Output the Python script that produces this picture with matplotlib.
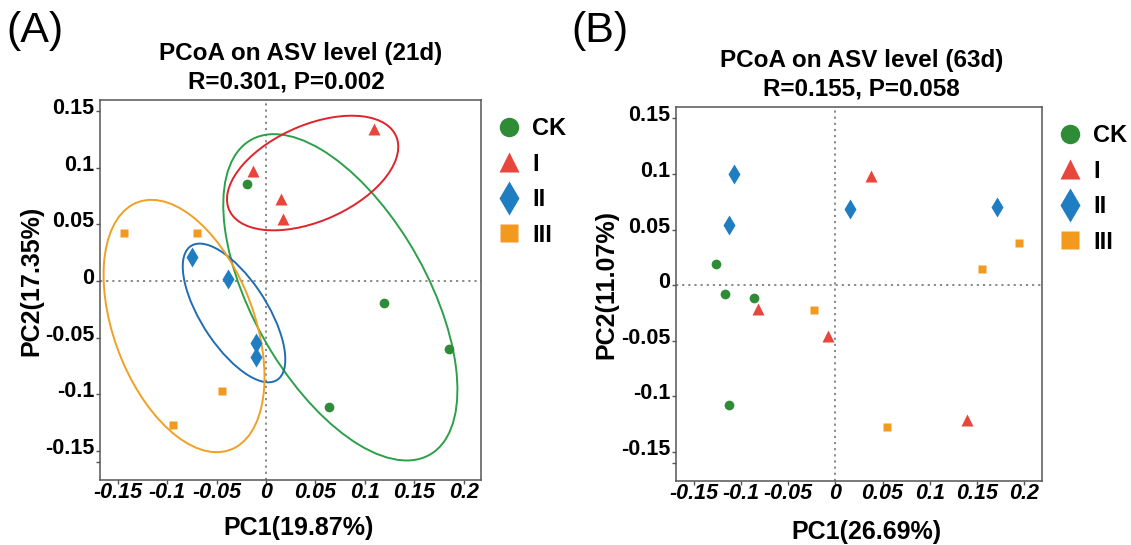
import matplotlib
matplotlib.use('Agg')
import matplotlib.pyplot as plt
from matplotlib.patches import Ellipse
from matplotlib.lines import Line2D
from matplotlib.transforms import ScaledTranslation

plt.rcParams['font.family'] = ['Liberation Sans', 'DejaVu Sans']

# groups and styles
groups = ['CK', 'I', 'II', 'III']
markers = ['o', '^', 'd', 's']
marker_sizes = [7.0, 9.2, 10.2, 6.3]
legend_sizes = [14, 15, 17, 12.5]
point_colors = ['#2E8B36', '#E8453C', '#1F7DC2', '#F39A1E']
ellipse_colors = ['#2BA04A', '#E0232B', '#1F6DB3', '#F0A024']

# PCoA scores, 21d (one list per group: CK, I, II, III)
pc1_21d = [[-0.019, 0.1195, 0.1848, 0.0633],
           [0.1091, -0.0135, 0.0152, 0.0175],
           [-0.0751, -0.0381, -0.0104, -0.0104],
           [-0.1434, -0.070, -0.0441, -0.0943]]
pc2_21d = [[0.0855, -0.0191, -0.0597, -0.1108],
           [0.1338, 0.0970, 0.0720, 0.0544],
           [0.0209, 0.0018, -0.0544, -0.0667],
           [0.0420, 0.0420, -0.0970, -0.1267]]

# confidence ellipses
ell_cx_21d = [0.0751, 0.0471, -0.0323, -0.0828]
ell_cy_21d = [-0.0144, 0.0952, -0.0282, -0.0397]
ell_w_21d = [0.332, 0.181, 0.147, 0.238]
ell_h_21d = [0.169, 0.086, 0.064, 0.139]
ell_angle_21d = [-54.6, 19.5, -52.0, -64.1]

# PCoA scores, 63d
pc1_63d = [[-0.1261, -0.1170, -0.0859, -0.1131],
           [0.0377, -0.0814, -0.0081, 0.1392],
           [-0.1071, -0.1124, 0.0155, 0.1713],
           [-0.0225, 0.0543, 0.1548, 0.1945]]
pc2_63d = [[0.0195, -0.0081, -0.0111, -0.1073],
           [0.0980, -0.0210, -0.0456, -0.1208],
           [0.1004, 0.0546, 0.0690, 0.0704],
           [-0.0219, -0.1274, 0.0150, 0.0380]]

xticks = [-0.15, -0.1, -0.05, 0, 0.05, 0.1, 0.15, 0.2]
xticklabels = ['-0.15', '-0.1', '-0.05', '0', '0.05', '0.1', '0.15', '0.2']
yticks = [-0.16, -0.15, -0.1, -0.05, 0, 0.05, 0.1, 0.15]
yticklabels = ['', '-0.15', '-0.1', '-0.05', '0', '0.05', '0.1', '0.15']

W, H = 1131, 545
fig = plt.figure(figsize=(W / 100, H / 100), dpi=100)


def pcoa_panel(rect, xlim, ylim, pc1, pc2, title, stats, xlab, ylab,
               letter, letter_x, title_dx, ylab_x, xlab_y, ellipses=None):
    left, top, right, bottom = rect
    ax = fig.add_axes([left / W, 1 - bottom / H, (right - left) / W, (bottom - top) / H])
    ax.set_xlim(*xlim)
    ax.set_ylim(*ylim)

    ax.axhline(0, color='#808080', lw=1.3, ls=(0, (1.2, 2.2)), zorder=1)
    ax.axvline(0, color='#808080', lw=1.3, ls=(0, (1.2, 2.2)), zorder=1)

    if ellipses is not None:
        cx, cy, ew, eh, ea = ellipses
        for i in range(len(groups)):
            ax.add_patch(Ellipse((cx[i], cy[i]), ew[i], eh[i], angle=ea[i],
                                 fill=False, ec=ellipse_colors[i], lw=1.4, zorder=2))

    for i, g in enumerate(groups):
        ax.plot(pc1[i], pc2[i], ls='none', marker=markers[i], ms=marker_sizes[i],
                color=point_colors[i], mec='none', zorder=3)

    for s in ax.spines.values():
        s.set_color('#555555')
        s.set_linewidth(1.1)

    ax.set_xticks(xticks)
    ax.set_xticklabels(xticklabels, fontsize=15.5, fontweight='bold', fontstyle='italic')
    ax.set_yticks(yticks)
    ax.set_yticklabels(yticklabels, fontsize=15.5, fontweight='bold')
    ax.tick_params(axis='x', length=3, width=1, color='#555555', pad=-1.5)
    ax.tick_params(axis='y', length=3, width=1, color='#555555', pad=1.0)
    for lbl in ax.get_yticklabels():
        lbl.set_transform(lbl.get_transform() + ScaledTranslation(0, 0.05, fig.dpi_scale_trans))

    ax.set_xlabel(xlab, fontsize=18, fontweight='bold', va='center')
    ax.xaxis.set_label_coords(0.52, xlab_y)
    ax.set_ylabel(ylab, fontsize=18, fontweight='bold', va='center')
    ax.yaxis.set_label_coords(ylab_x, 0.525)

    ax.annotate(title, xy=(0.5, 1), xycoords='axes fraction', xytext=(title_dx[0], 29),
                textcoords='offset points', ha='center', va='baseline',
                fontsize=17.5, fontweight='bold')
    ax.annotate(stats, xy=(0.5, 1), xycoords='axes fraction', xytext=(title_dx[1], 8),
                textcoords='offset points', ha='center', va='baseline',
                fontsize=17.5, fontweight='bold')

    fig.text(letter_x / W, 1 - 11 / H, letter, fontsize=31, va='top', ha='left')

    handles = [Line2D([], [], ls='none', marker=markers[i], ms=legend_sizes[i],
                      color=point_colors[i], mec='none') for i in range(len(groups))]
    ax.legend(handles, groups, loc='upper left', bbox_to_anchor=(1.0, 1.0),
              frameon=False, prop={'weight': 'bold', 'size': 17},
              handlelength=0.9, handletextpad=0.55, labelspacing=0.53,
              borderaxespad=0.3, borderpad=0.42)
    return ax


pcoa_panel((100, 100, 481, 480), (-0.1677, 0.2172), (-0.1755, 0.1596),
           pc1_21d, pc2_21d, 'PCoA on ASV level (21d)', 'R=0.301, P=0.002',
           'PC1(19.87%)', 'PC2(17.35%)', '(A)', 6, (7, -3), -0.18, -0.126,
           ellipses=(ell_cx_21d, ell_cy_21d, ell_w_21d, ell_h_21d, ell_angle_21d))

pcoa_panel((676, 107, 1042, 481), (-0.1687, 0.2188), (-0.176, 0.1603),
           pc1_63d, pc2_63d, 'PCoA on ASV level (63d)', 'R=0.155, P=0.058',
           'PC1(26.69%)', 'PC2(11.07%)', '(B)', 571, (2, 2), -0.19, -0.136)

fig.savefig('out.png', dpi=100, facecolor='white')
